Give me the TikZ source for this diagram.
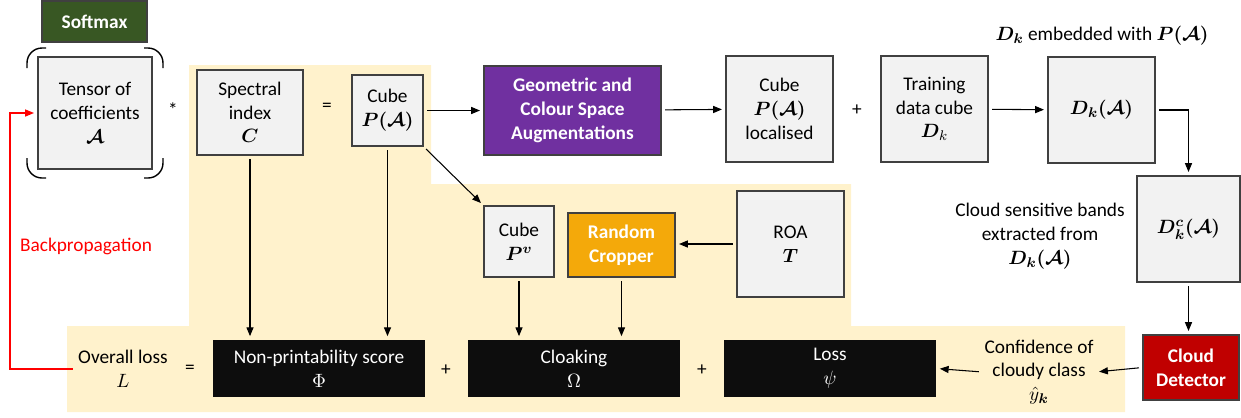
\documentclass[tikz,border=0pt]{standalone}
\usepackage{amsmath,bm}
\usepackage{fontspec}
\setmainfont{Carlito}
\usetikzlibrary{calc,arrows.meta}

\definecolor{bgyellow}{HTML}{FFF2CC}
\definecolor{boxgrey}{HTML}{F2F2F2}
\definecolor{boxline}{HTML}{404040}
\definecolor{softgreen}{HTML}{385723}
\definecolor{augpurple}{HTML}{7030A0}
\definecolor{cropgold}{HTML}{F4A90A}
\definecolor{detred}{HTML}{C00000}
\definecolor{lossblack}{HTML}{0D0D0D}

\tikzset{
  greybox/.style={draw=boxline, fill=boxgrey, line width=0.6pt, align=center, inner sep=1pt},
  colbox/.style={draw=boxline, line width=0.6pt, text=white, align=center, inner sep=1pt,
    font=\fontsize{11pt}{13.5pt}\selectfont\bfseries},
  lossbox/.style={fill=lossblack, text=white, align=center, minimum width=4.24cm, minimum height=1.14cm},
  flow/.style={-{Triangle[length=5pt,width=4pt]}, line width=0.6pt, shorten >=2pt, shorten <=2pt},
  txt/.style={align=center, inner sep=1pt}
}

\begin{document}
\begin{tikzpicture}[x=0.02cm,y=-0.02cm,font=\fontsize{11pt}{13.5pt}\selectfont]
\useasboundingbox (0,0) rectangle (1241,417);
\fill[bgyellow] (189,65) -- (431,65) -- (431,184) -- (851,184) -- (851,326) -- (1125,326)
  -- (1125,412) -- (67,412) -- (67,326) -- (189,326) -- cycle;

\node[colbox, fill=softgreen, minimum width=2.10cm, minimum height=0.82cm] (softmax) at (94.5,21.5) {Softmax};
\node[greybox, minimum width=2.28cm, minimum height=2.24cm] (tensor) at (95,113) {Tensor of\\coefficients\\$\bm{\mathcal{A}}$};
\draw[line width=0.8pt, rounded corners=0.3cm] (27,68) -- (27,48) -- (46,48);
\draw[line width=0.8pt, rounded corners=0.3cm] (27,158) -- (27,178) -- (46,178);
\draw[line width=0.8pt, rounded corners=0.3cm] (163,68) -- (163,48) -- (144,48);
\draw[line width=0.8pt, rounded corners=0.3cm] (163,158) -- (163,178) -- (144,178);
\node[txt] (star) at (173,110) {*};
\node[greybox, minimum width=2.12cm, minimum height=1.70cm] (spectral) at (250,112.5) {Spectral\\index\\$\bm{C}$};
\node[txt] (eqtop) at (327,107) {=};
\node[greybox, minimum width=1.42cm, minimum height=1.42cm] (cube) at (387.5,110.5) {Cube\\$\bm{P(\mathcal{A})}$};
\node[colbox, fill=augpurple, minimum width=3.54cm, minimum height=1.78cm] (augment) at (572.5,110.5) {Geometric and\\Colour Space\\Augmentations};
\node[greybox, minimum width=2.14cm, minimum height=2.12cm] (cubeloc) at (779.5,109) {Cube\\$\bm{P(\mathcal{A})}$\\localised};
\node[txt] (plustop) at (857,110) {+};
\node[greybox, minimum width=2.14cm, minimum height=2.12cm] (train) at (934.5,109) {Training\\data cube\\$\bm{D}_k$};
\node[greybox, minimum width=2.14cm, minimum height=2.12cm] (embed) at (1101.5,110) {$\bm{D_k(\mathcal{A})}$};
\node[txt] (embedlbl) at (1102,36) {$\bm{D_k}$ embedded with $\bm{P(\mathcal{A})}$};
\node[greybox, minimum width=2.06cm, minimum height=2.12cm] (bands) at (1188.5,229) {$\bm{D_k^c(\mathcal{A})}$};
\node[txt] (bandslbl) at (1040,236) {Cloud sensitive bands\\extracted from\\$\bm{D_k(\mathcal{A})}$};
\node[colbox, fill=detred, minimum width=1.92cm, minimum height=1.30cm] (detector) at (1191,367.5) {Cloud\\Detector};
\node[txt] (conf) at (1039,372) {Confidence of\\cloudy class\\$\hat{y}_{\bm{k}}$};

\node[greybox, minimum width=1.40cm, minimum height=1.42cm] (cubev) at (519,241.5) {Cube\\$\bm{P^v}$};
\node[colbox, fill=cropgold, minimum width=2.14cm, minimum height=1.28cm] (cropper) at (621.5,245) {Random\\Cropper};
\node[greybox, minimum width=2.14cm, minimum height=2.12cm] (roa) at (790.5,244) {ROA\\$\bm{T}$};

\node[txt] (overall) at (123,369) {Overall loss\\$L$};
\node[txt] (eqlow) at (190,369) {=};
\node[lossbox] (nps) at (319,368.5) {Non-printability score\\$\Phi$};
\node[txt] (plusa) at (446,370) {+};
\node[lossbox] (cloak) at (574,368.5) {Cloaking\\$\Omega$};
\node[txt] (plusb) at (702,370) {+};
\node[lossbox] (loss) at (830,368.5) {Loss\\$\psi$};
\node[txt, text=red] (backprop) at (86,246) {Backpropagation};

\draw[flow] (cube) -- (augment);
\draw[flow] (augment) -- (cubeloc);
\draw[flow] (train) -- (embed);
\draw[flow] (embed.east) -| (bands.north);
\draw[flow] (bands.south) -- (bands.south |- detector.north);
\draw[flow] (detector.west) -- (conf.east);
\draw[flow] (conf.west) -- (loss.east);
\draw[flow] (spectral.south) -- (spectral.south |- nps.north);
\draw[flow] (cube.south) -- (cube.south |- nps.north);
\draw[flow] (cube.south east) -- (cubev.north west);
\draw[flow] (cubev.south) -- (cubev.south |- cloak.north);
\draw[flow] (cropper.south) -- (cropper.south |- cloak.north);
\draw[flow] (roa.west) -- (cropper.east |- roa.west);
\coordinate (bpcorner) at (10,369);
\draw[flow, red] (overall.west) -- (bpcorner) |- (tensor.west);
\end{tikzpicture}
\end{document}
